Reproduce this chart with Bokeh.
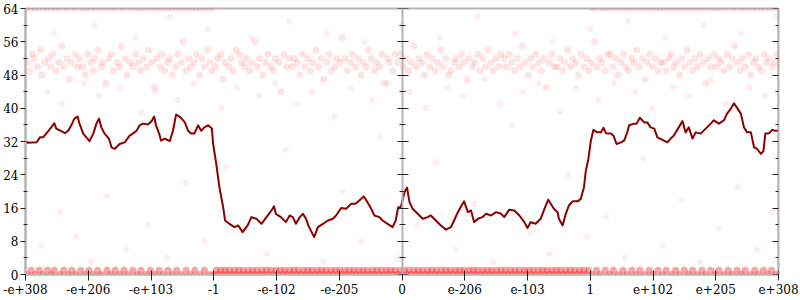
from bokeh.plotting import figure
from bokeh.models import Range1d, FixedTicker, LinearAxis
from bokeh.embed import file_html
from bokeh.resources import INLINE

# ---- axis ticks / labels ----
x_ticks = [0, 1, 2, 3, 4, 5, 6, 7, 8, 9, 10, 11, 12]
x_tick_labels = ["-e+308", "-e+206", "-e+103", "-1", "-e-102", "-e-205", "0",
                 "e-206", "e-103", "1", "e+102", "e+205", "e+308"]
y_ticks = [0, 8, 16, 24, 32, 40, 48, 56, 64]
y_minor_ticks = [4, 12, 20, 28, 36, 44, 52, 60]

# ---- main line ----
line_x = [0.00,0.04,0.18,0.23,0.28,0.33,0.41,0.46,0.49,0.57,
          0.63,0.68,0.73,0.78,0.83,0.86,0.92,0.97,1.02,1.08,
          1.13,1.17,1.21,1.26,1.33,1.37,1.42,1.50,1.58,1.66,
          1.71,1.77,1.82,1.87,1.95,2.01,2.05,2.08,2.13,2.16,
          2.22,2.30,2.35,2.40,2.47,2.54,2.59,2.64,2.69,2.75,
          2.80,2.85,2.91,2.97,2.99,3.04,3.09,3.15,3.18,3.25,
          3.33,3.39,3.46,3.54,3.60,3.68,3.76,3.84,3.92,3.96,
          3.99,4.07,4.15,4.21,4.26,4.31,4.37,4.42,4.47,4.52,
          4.60,4.66,4.74,4.82,4.90,4.95,5.03,5.11,5.19,5.26,
          5.32,5.39,5.45,5.51,5.56,5.64,5.69,5.77,5.85,5.90,
          5.94,5.98,6.04,6.08,6.12,6.17,6.25,6.33,6.41,6.46,
          6.54,6.62,6.70,6.78,6.83,6.89,6.95,6.99,7.05,7.10,
          7.15,7.21,7.28,7.34,7.42,7.50,7.58,7.63,7.71,7.79,
          7.87,7.95,8.00,8.05,8.13,8.21,8.27,8.33,8.37,8.42,
          8.48,8.50,8.56,8.61,8.66,8.72,8.80,8.85,8.90,8.93,
          8.97,9.01,9.05,9.11,9.17,9.21,9.25,9.33,9.37,9.42,
          9.49,9.54,9.59,9.62,9.70,9.74,9.79,9.86,9.91,9.96,
          10.02,10.07,10.15,10.23,10.28,10.33,10.41,10.47,10.52,10.57,
          10.63,10.68,10.76,10.84,10.92,10.97,11.05,11.13,11.18,11.24,
          11.29,11.34,11.40,11.45,11.50,11.56,11.61,11.66,11.72,11.76,
          11.79,11.85,11.90,11.95,12.00]
line_y = [32.0,31.7,31.8,33.0,33.0,33.9,35.4,36.4,35.1,34.5,
          34.0,34.6,35.9,37.5,38.0,36.3,33.9,33.0,32.1,33.9,
          36.3,37.5,35.4,33.9,32.7,30.6,30.2,31.4,31.8,33.4,
          33.9,34.6,35.9,36.3,36.1,36.9,38.0,35.9,33.9,32.2,
          32.7,32.1,34.6,38.5,37.8,36.6,34.6,33.9,33.9,35.9,
          34.6,35.4,35.9,35.1,31.4,26.6,21.0,16.2,13.0,12.2,
          11.4,11.8,10.2,11.8,13.8,13.4,12.2,13.8,15.4,16.4,
          14.6,13.8,12.6,14.2,13.8,12.2,13.8,14.6,13.4,11.4,
          9.0,11.4,12.2,13.0,13.4,14.2,16.0,15.8,17.0,17.0,
          17.8,18.8,17.4,15.8,14.2,13.8,13.0,12.2,11.4,13.0,
          16.2,16.2,19.8,20.9,17.4,15.8,14.6,13.4,13.8,14.2,
          13.0,11.8,10.8,11.4,13.0,15.0,16.6,17.6,15.0,15.4,
          12.6,13.4,13.8,14.6,14.2,15.0,14.6,13.8,15.6,15.4,
          14.2,12.6,11.2,12.6,12.2,13.4,15.8,18.0,17.0,15.8,
          15.0,13.4,11.8,14.6,16.6,17.6,17.6,18.2,21.0,25.0,
          27.8,32.2,34.8,34.2,34.2,35.3,34.0,33.9,33.4,31.4,
          31.8,32.2,34.2,35.9,36.3,36.3,37.7,36.6,36.6,35.4,
          35.1,33.0,32.4,31.8,32.7,33.4,35.4,36.9,34.2,35.4,
          32.7,34.2,33.9,35.1,36.3,37.1,36.3,37.1,38.7,39.9,
          41.2,40.1,38.7,35.4,34.2,34.2,30.6,30.2,29.0,29.7,
          33.9,34.0,34.8,34.6,34.6]

# ---- scatter cloud: middle band ----
mid_x = [0.02,0.07,0.11,0.13,0.19,0.24,0.26,0.31,0.37,0.40,0.44,0.49,0.53,0.58,0.61,0.66,0.70,0.73,0.79,0.83,
         0.86,0.91,0.95,0.99,1.04,1.08,1.10,1.16,1.21,1.23,1.28,1.33,1.37,1.40,1.46,1.50,1.53,1.59,1.62,1.67,
         1.71,1.76,1.79,1.83,1.88,1.93,1.96,2.01,2.05,2.09,2.14,2.17,2.22,2.27,2.30,2.34,2.39,2.43,2.48,2.51,
         2.56,2.60,2.63,2.69,2.72,2.77,2.81,2.85,2.90,2.94,2.97,3.03,3.06,3.11,3.15,3.18,3.24,3.28,3.31,3.36,
         3.41,3.44,3.49,3.52,3.57,3.61,3.66,3.70,3.73,3.78,3.83,3.86,3.91,3.95,3.98,4.04,4.07,4.12,4.16,4.20,
         4.25,4.28,4.33,4.37,4.42,4.45,4.50,4.54,4.58,4.63,4.67,4.71,4.75,4.80,4.84,4.87,4.93,4.96,5.01,5.05,
         5.09,5.13,5.18,5.21,5.26,5.30,5.35,5.38,5.43,5.47,5.51,5.56,5.59,5.64,5.68,5.72,5.77,5.80,5.85,5.89,
         5.93,5.98,6.02,6.06,6.10,6.15,6.19,6.23,6.27,6.32,6.36,6.40,6.45,6.48,6.53,6.57,6.62,6.65,6.70,6.74,
         6.78,6.83,6.86,6.91,6.95,6.99,7.04,7.07,7.12,7.16,7.21,7.24,7.29,7.33,7.37,7.42,7.45,7.50,7.54,7.58,
         7.63,7.66,7.71,7.75,7.79,7.84,7.88,7.92,7.96,8.01,8.05,8.09,8.13,8.18,8.22,8.26,8.30,8.35,8.39,8.43,
         8.47,8.52,8.56,8.60,8.64,8.69,8.72,8.77,8.81,8.85,8.90,8.94,8.98,9.02,9.07,9.11,9.15,9.19,9.24,9.28,
         9.32,9.36,9.41,9.44,9.49,9.53,9.57,9.61,9.66,9.70,9.74,9.78,9.83,9.87,9.91,9.95,9.99,10.04,10.08,10.12,
         10.16,10.21,10.25,10.29,10.33,10.37,10.42,10.46,10.50,10.54,10.59,10.63,10.67,10.71,10.75,10.80,10.84,10.88,10.92,10.97,
         11.01,11.05,11.09,11.13,11.18,11.22,11.26,11.30,11.35,11.39,11.43,11.47,11.52,11.56,11.60,11.64,11.68,11.73,11.77,11.81,
         11.85,11.90,11.94,11.98]
mid_y = [51,49,53,52,50,54,48,51,52,50,53,49,51,55,50,52,47,51,53,50,
         52,50,48,53,51,49,52,54,50,51,46,52,53,49,51,50,55,52,48,51,
         50,53,51,49,52,50,54,51,45,52,50,53,49,51,52,48,50,53,51,56,
         49,52,50,51,53,48,52,50,54,51,49,50,52,53,47,51,50,52,49,54,
         53,51,50,52,49,51,56,50,52,48,51,53,50,49,52,51,44,53,50,52,
         50,52,51,48,53,50,52,49,51,54,50,52,47,51,53,49,50,52,51,57,
         52,49,51,53,50,52,48,51,50,54,52,49,51,50,53,46,52,51,49,53,
         51,53,50,52,49,51,55,50,52,51,48,53,50,52,49,51,54,50,52,48,
         49,51,52,50,53,51,47,52,50,51,53,49,52,50,54,51,49,52,50,53,
         52,50,53,51,49,52,50,55,51,48,52,50,53,51,49,52,45,51,53,50,
         50,52,49,51,54,50,52,51,48,53,50,52,49,51,56,50,52,51,49,53,
         53,50,52,48,51,53,50,49,52,51,54,50,52,47,51,53,50,52,49,51,
         51,49,52,53,50,51,48,52,50,54,51,49,52,50,53,51,46,52,50,53,
         50,52,51,49,53,50,52,55,51,49,52,50,53,48,51,52,50,49,53,51,
         52,50,51,53]

# ---- scatter cloud: bottom band (value 0 and value 1) ----
low0_x = [0.03,0.15,0.27,0.41,0.55,0.68,0.80,0.95,1.08,1.21,1.36,1.50,1.63,1.78,1.92,2.06,2.19,2.34,2.48,2.63,2.78,2.93,
          3.00,3.07,3.14,3.22,3.29,3.36,3.44,3.51,3.58,3.66,3.73,3.80,3.88,3.95,4.02,4.10,4.17,4.24,4.32,4.39,
          4.46,4.54,4.61,4.68,4.76,4.83,4.90,4.98,5.05,5.12,5.20,5.27,5.34,5.42,5.49,5.56,5.64,5.71,5.78,5.86,
          5.93,6.00,6.08,6.15,6.22,6.30,6.37,6.44,6.52,6.59,6.66,6.74,6.81,6.88,6.96,7.03,7.10,7.18,7.25,7.32,
          7.40,7.47,7.54,7.62,7.69,7.76,7.84,7.91,7.98,8.06,8.13,8.20,8.28,8.35,8.42,8.50,8.57,8.64,8.72,8.79,
          8.86,8.94,9.03,9.16,9.31,9.45,9.58,9.73,9.87,10.00,10.15,10.29,10.42,10.57,10.71,10.84,10.99,11.13,
          11.26,11.41,11.55,11.68,11.83,11.96]
low1_x = [0.09,0.22,0.35,0.46,0.61,0.74,0.88,1.01,1.15,1.30,1.43,1.57,1.71,1.84,1.99,2.13,2.27,2.41,2.56,2.70,2.85,
          3.04,3.11,3.18,3.25,3.33,3.40,3.47,3.55,3.62,3.69,3.77,3.84,3.91,3.99,4.06,4.13,4.21,4.28,4.35,4.43,
          4.50,4.57,4.65,4.72,4.79,4.87,4.94,5.01,5.09,5.16,5.23,5.31,5.38,5.45,5.53,5.60,5.67,5.75,5.82,5.89,
          5.97,6.04,6.11,6.19,6.26,6.33,6.41,6.48,6.55,6.63,6.70,6.77,6.85,6.92,6.99,7.07,7.14,7.21,7.29,7.36,
          7.43,7.51,7.58,7.65,7.73,7.80,7.87,7.95,8.02,8.09,8.17,8.24,8.31,8.39,8.46,8.53,8.61,8.68,8.75,8.83,
          8.90,8.97,9.10,9.24,9.37,9.52,9.66,9.79,9.94,10.08,10.21,10.36,10.50,10.63,10.78,10.92,11.05,11.20,
          11.34,11.47,11.62,11.76,11.89]

# ---- scatter cloud: top band (value 64) ----
top_x = [0.02,0.09,0.15,0.21,0.28,0.34,0.41,0.47,0.53,0.60,0.66,0.73,0.79,0.86,0.92,0.98,1.05,1.11,1.18,1.24,
         1.31,1.37,1.43,1.50,1.56,1.63,1.69,1.76,1.82,1.88,1.95,2.01,2.08,2.14,2.21,2.27,2.33,2.40,2.46,2.53,
         2.59,2.66,2.72,2.78,2.85,2.91,2.98,
         9.02,9.08,9.15,9.21,9.27,9.34,9.40,9.47,9.53,9.60,9.66,9.72,9.79,9.85,9.92,9.98,10.05,10.11,10.17,10.24,
         10.30,10.37,10.43,10.50,10.56,10.62,10.69,10.75,10.82,10.88,10.95,11.01,11.07,11.14,11.20,11.27,11.33,11.40,
         11.46,11.52,11.59,11.65,11.72,11.78,11.85,11.91,11.98]
top_value = 64

# ---- scatter cloud: sparse points ----
sparse_x = [0.35,0.58,0.93,1.17,1.52,1.84,2.07,2.43,2.68,3.12,3.37,3.73,3.98,4.33,4.57,4.92,5.18,5.53,5.77,6.13,
            6.38,6.72,6.97,7.32,7.57,7.93,8.18,8.52,8.77,9.13,9.38,9.72,9.98,10.33,10.57,10.92,11.17,11.53,11.78,
            0.25,0.55,0.80,1.05,1.30,1.60,1.95,2.25,2.55,2.85,3.20,3.50,3.85,4.15,4.45,4.75,5.05,5.35,5.65,5.95,
            6.25,6.55,6.85,7.15,7.45,7.75,8.05,8.35,8.65,8.95,9.25,9.55,9.85,10.15,10.45,10.75,11.05,11.35,11.65,11.90,
            0.45,1.10,1.75,2.30,2.90,3.60,4.20,4.80,5.40,6.00,6.60,7.20,7.80,8.40,9.00,9.60,10.20,10.80,11.40,11.95]
sparse_y = [44,41,46,43,45,39,44,42,46,40,45,43,46,41,44,38,45,42,46,44,
            40,45,43,47,41,44,46,39,45,42,46,44,40,45,43,47,41,45,43,
            7,15,9,3,19,6,12,4,22,8,26,11,5,30,14,3,20,8,33,4,
            12,27,6,17,3,36,10,5,24,9,14,4,28,7,18,3,11,21,6,15,
            58,60,57,62,59,57,61,58,56,60,57,62,58,56,59,61,57,60,58,62]

GRAY = "#b4b4b4"
DARK = "#222222"
FONT = "DejaVu Serif"
RED = "#ff1a1a"

p = figure(width=800, height=300, x_range=Range1d(0, 12), y_range=Range1d(0, 64),
           output_backend="svg", toolbar_location=None,
           min_border_left=24, min_border_right=22, min_border_top=8, min_border_bottom=26)
p.grid.visible = False
p.outline_line_color = GRAY
p.outline_line_width = 2
p.background_fill_color = "white"
p.border_fill_color = "white"

yt = FixedTicker(ticks=y_ticks, minor_ticks=y_minor_ticks)

ya = p.yaxis[0]
ya.ticker = yt
ya.axis_line_color = GRAY
ya.axis_line_width = 2
ya.major_tick_line_color = DARK
ya.major_tick_out = 5
ya.major_tick_in = 0
ya.minor_tick_line_color = DARK
ya.minor_tick_out = 2
ya.minor_tick_in = 2
ya.major_label_standoff = 2
ya.major_label_text_font = FONT
ya.major_label_text_font_size = "12px"
ya.major_label_text_color = "black"

xa = p.xaxis[0]
xa.ticker = FixedTicker(ticks=x_ticks)
xa.major_label_overrides = {t: s for t, s in zip(x_ticks, x_tick_labels)}
xa.axis_line_color = GRAY
xa.axis_line_width = 2
xa.major_tick_line_color = DARK
xa.major_tick_out = 6
xa.major_tick_in = 4
xa.minor_tick_line_color = None
xa.major_label_standoff = 3
xa.major_label_text_font = FONT
xa.major_label_text_font_size = "12px"
xa.major_label_text_color = "black"

def side_axis(loc):
    return LinearAxis(ticker=yt, fixed_location=loc, axis_line_color=GRAY, axis_line_width=2,
                      major_tick_line_color=DARK, minor_tick_line_color=DARK,
                      major_tick_in=6, major_tick_out=5, minor_tick_in=3, minor_tick_out=3,
                      major_label_text_color=None, major_label_standoff=0)

p.add_layout(side_axis(x_ticks[6]), "left")
p.add_layout(side_axis(x_ticks[12]), "right")

# scatter cloud
p.scatter(sparse_x, sparse_y, size=6, fill_color=RED, fill_alpha=0.08, line_color=None)
p.scatter(mid_x, mid_y, size=7, fill_color=RED, fill_alpha=0.12, line_color=None)
p.scatter(low0_x, 0, size=7, fill_color=RED, fill_alpha=0.4, line_color=None)
p.scatter(low1_x, 1, size=7, fill_color=RED, fill_alpha=0.4, line_color=None)
p.scatter(top_x, top_value, size=6, fill_color=RED, fill_alpha=0.12, line_color=None)

# main line
p.line(line_x, line_y, color="#8b0000", line_width=2, line_join="round")

open("out.html", "w").write(file_html(p, INLINE))
